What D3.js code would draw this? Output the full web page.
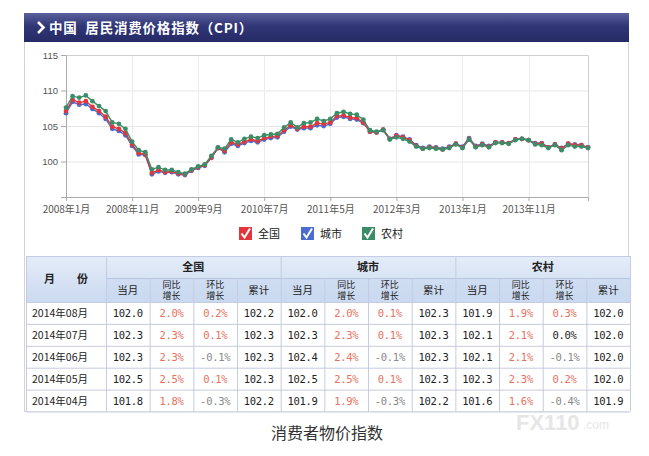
<!DOCTYPE html>
<html>
<head>
<meta charset="utf-8">
<script src="https://cdnjs.cloudflare.com/ajax/libs/d3/7.8.5/d3.min.js"></script>
<style>
  html, body { margin: 0; padding: 0; background: #fff; }
  svg { display: block; font-family: "Noto Sans CJK SC", "Noto Sans", sans-serif; }
</style>
</head>
<body>
<div id="chart"></div>
<script>
// ---- data ----
const seriesNames = ["全国", "城市", "农村"];
const seriesColors = ["#e2353c", "#4a6dcf", "#3b8d68"];

const national = [
  107.1, 108.7, 108.3, 108.5, 107.7, 107.1, 106.3, 104.9, 104.6, 104.0, 102.4, 101.2,
  101.0, 98.4, 98.8, 98.5, 98.6, 98.3, 98.2, 98.8, 99.2, 99.5, 100.6, 101.9,
  101.5, 102.7, 102.4, 102.8, 103.1, 102.9, 103.3, 103.5, 103.6, 104.4, 105.1, 104.6,
  104.9, 104.9, 105.4, 105.3, 105.5, 106.4, 106.5, 106.2, 106.1, 105.5, 104.2, 104.1,
  104.5, 103.2, 103.6, 103.4, 103.0, 102.2, 101.8, 102.0, 101.9, 101.7, 102.0, 102.5,
  102.0, 103.2, 102.1, 102.4, 102.1, 102.7, 102.7, 102.6, 103.1, 103.2, 103.0, 102.5,
  102.5, 102.0, 102.4, 101.8, 102.5, 102.3, 102.3, 102.0
];
const urban = [
  106.8, 108.4, 108.0, 108.1, 107.4, 106.8, 106.0, 104.6, 104.3, 103.7, 102.2, 101.0,
  100.9, 98.2, 98.6, 98.4, 98.5, 98.2, 98.1, 98.7, 99.1, 99.4, 100.5, 101.9,
  101.3, 102.5, 102.2, 102.6, 102.9, 102.7, 103.1, 103.3, 103.4, 104.2, 104.9, 104.5,
  104.7, 104.7, 105.1, 105.0, 105.3, 106.2, 106.3, 106.0, 105.9, 105.4, 104.2, 104.1,
  104.5, 103.2, 103.7, 103.5, 103.1, 102.3, 101.9, 102.1, 102.0, 101.8, 102.1, 102.5,
  102.1, 103.3, 102.2, 102.5, 102.2, 102.7, 102.7, 102.6, 103.1, 103.2, 103.0, 102.6,
  102.6, 102.0, 102.4, 101.9, 102.5, 102.4, 102.3, 102.0
];
const rural = [
  107.6, 109.2, 109.0, 109.3, 108.5, 107.8, 107.1, 105.5, 105.3, 104.6, 102.8, 101.6,
  101.3, 98.9, 99.2, 98.8, 98.8, 98.5, 98.3, 98.9, 99.3, 99.6, 100.8, 102.0,
  101.8, 103.1, 102.7, 103.2, 103.5, 103.3, 103.7, 103.8, 103.9, 104.8, 105.5, 104.8,
  105.4, 105.5, 106.0, 105.7, 106.0, 106.8, 107.0, 106.7, 106.6, 105.9, 104.4, 104.2,
  104.4, 103.1, 103.4, 103.2, 102.8, 102.1, 101.8, 101.9, 101.8, 101.7, 101.9, 102.4,
  101.9, 103.1, 102.0, 102.3, 102.0, 102.6, 102.6, 102.5, 103.0, 103.2, 103.0, 102.4,
  102.3, 101.9, 102.3, 101.6, 102.3, 102.1, 102.1, 101.9
];
const xTickLabels = ["2008年1月", "2008年11月", "2009年9月", "2010年7月", "2011年5月", "2012年3月", "2013年1月", "2013年11月"];
const yTicks = [100, 105, 110, 115];

// table
const tableMonths = ["2014年08月", "2014年07月", "2014年06月", "2014年05月", "2014年04月"];
const subHeads = [["当月"], ["同比", "增长"], ["环比", "增长"], ["累计"]];
const tableNational = [
  ["102.0", "2.0%", "0.2%", "102.2"],
  ["102.3", "2.3%", "0.1%", "102.3"],
  ["102.3", "2.3%", "-0.1%", "102.3"],
  ["102.5", "2.5%", "0.1%", "102.3"],
  ["101.8", "1.8%", "-0.3%", "102.2"]
];
const tableUrban = [
  ["102.0", "2.0%", "0.1%", "102.3"],
  ["102.3", "2.3%", "0.1%", "102.3"],
  ["102.4", "2.4%", "-0.1%", "102.3"],
  ["102.5", "2.5%", "0.1%", "102.3"],
  ["101.9", "1.9%", "-0.3%", "102.2"]
];
const tableRural = [
  ["101.9", "1.9%", "0.3%", "102.0"],
  ["102.1", "2.1%", "0.0%", "102.0"],
  ["102.1", "2.1%", "-0.1%", "102.0"],
  ["102.3", "2.3%", "0.2%", "102.0"],
  ["101.6", "1.6%", "-0.4%", "101.9"]
];

const W = 649, H = 456;
const plot = { left: 66, right: 588, top: 55, bottom: 197 };

const series = [urban, national, rural];     // draw order
const seriesColorOf = [seriesColors[1], seriesColors[0], seriesColors[2]];

const svg = d3.select("#chart").append("svg")
  .attr("width", W).attr("height", H);

const defs = svg.append("defs");
const hg = defs.append("linearGradient").attr("id", "hdr").attr("x1", 0).attr("y1", 0).attr("x2", 0).attr("y2", 1);
hg.append("stop").attr("offset", "0%").attr("stop-color", "#5b609c");
hg.append("stop").attr("offset", "45%").attr("stop-color", "#303676");
hg.append("stop").attr("offset", "100%").attr("stop-color", "#262b66");
const tg = defs.append("linearGradient").attr("id", "thead").attr("x1", 0).attr("y1", 0).attr("x2", 0).attr("y2", 1);
tg.append("stop").attr("offset", "0%").attr("stop-color", "#e4ecf8");
tg.append("stop").attr("offset", "100%").attr("stop-color", "#cbdaf0");

// panel frame
svg.append("rect").attr("x", 24.5).attr("y", 13.5).attr("width", 604).attr("height", 398)
  .attr("fill", "#fff").attr("stroke", "#d4d4d8");

// header band
svg.append("rect").attr("x", 24).attr("y", 13).attr("width", 605).attr("height", 29).attr("fill", "url(#hdr)");
svg.append("path").attr("d", "M38,22 L43.5,27.5 L38,33").attr("fill", "none")
  .attr("stroke", "#fff").attr("stroke-width", 2.6);
svg.append("text").attr("x", 49).attr("y", 32.5).attr("fill", "#fff")
  .attr("font-size", 13.5).attr("font-weight", "bold").attr("letter-spacing", 0.8)
  .attr("font-family", "'Noto Sans CJK SC', serif").attr("xml:space", "preserve")
  .text("中国  居民消费价格指数（CPI）");

// scales
const x = d3.scaleLinear().domain([0, national.length - 1]).range([plot.left, plot.right]);
const y = d3.scaleLinear().domain([95, 115]).range([plot.bottom, plot.top]);
const tickIdx = xTickLabels.map((d, i) => i * 10);

// grid
const grid = svg.append("g");
grid.selectAll(".gy").data(yTicks.filter(v => v < 115)).join("line")
  .attr("x1", plot.left).attr("x2", plot.right)
  .attr("y1", d => y(d) + 0.5).attr("y2", d => y(d) + 0.5)
  .attr("stroke", "#e6e6e6");
grid.selectAll(".gx").data(tickIdx.slice(1)).join("line")
  .attr("x1", d => Math.round(x(d)) + 0.5).attr("x2", d => Math.round(x(d)) + 0.5)
  .attr("y1", plot.top).attr("y2", plot.bottom)
  .attr("stroke", "#ececec");
grid.append("path")
  .attr("d", `M${plot.left},${plot.top + 0.5}H${plot.right + 0.5}V${plot.bottom}`)
  .attr("fill", "none").attr("stroke", "#cfcfcf");

// axes
const yAxis = svg.append("g").attr("transform", `translate(${plot.left},0)`)
  .call(d3.axisLeft(y).tickValues(yTicks).tickSize(5).tickPadding(3));
const xAxis = svg.append("g").attr("transform", `translate(0,${plot.bottom})`)
  .call(d3.axisBottom(x).tickValues(tickIdx).tickSize(4).tickPadding(5)
    .tickFormat((d, i) => xTickLabels[i]));
[xAxis, yAxis].forEach(a => {
  a.select(".domain").attr("stroke", "#aaa");
  a.selectAll(".tick line").attr("stroke", "#aaa");
  a.selectAll("text").attr("fill", "#555").attr("font-size", 9.5)
    .attr("font-family", "'Liberation Sans', Arial, sans-serif");
});
xAxis.selectAll("text").attr("font-family", "'Noto Sans CJK SC', sans-serif").attr("font-size", 10);

// lines and markers
const line = d3.line().x((d, i) => x(i)).y(d => y(d));
series.forEach((s, k) => {
  const g = svg.append("g");
  g.append("path").datum(s).attr("d", line)
    .attr("fill", "none").attr("stroke", seriesColorOf[k]).attr("stroke-width", 1.4);
  g.selectAll("circle").data(s).join("circle")
    .attr("cx", (d, i) => x(i)).attr("cy", d => y(d)).attr("r", 2.4)
    .attr("fill", seriesColorOf[k]);
});

// legend
const legendX = [239, 301, 362];
const lg = svg.append("g");
seriesNames.forEach((name, i) => {
  const gx = legendX[i], gy = 227;
  lg.append("rect").attr("x", gx).attr("y", gy).attr("width", 13).attr("height", 13)
    .attr("fill", seriesColors[i]);
  lg.append("path").attr("d", `M${gx + 2.5},${gy + 6.5} L${gx + 5.5},${gy + 10.5} L${gx + 11},${gy + 1.5}`)
    .attr("fill", "none").attr("stroke", "#fff").attr("stroke-width", 2);
  lg.append("text").attr("x", gx + 19).attr("y", gy + 11).attr("font-size", 11)
    .attr("fill", "#222").text(name);
});

// table
const tTop = 256, h1 = 22, h2 = 24, rowH = 21.9;
const colX = [26, 106];
for (let i = 1; i <= 12; i++) colX.push(106 + i * 43.67);
const tRight = colX[colX.length - 1];
const bodyTop = tTop + h1 + h2;
const tbl = svg.append("g");

tbl.append("rect").attr("x", colX[0]).attr("y", tTop).attr("width", tRight - colX[0])
  .attr("height", h1 + h2).attr("fill", "url(#thead)");
tbl.append("rect").attr("x", colX[1]).attr("y", tTop + h1).attr("width", tRight - colX[1])
  .attr("height", h2).attr("fill", "#c9d9f0").attr("opacity", 0.6);
tbl.append("rect").attr("x", colX[0]).attr("y", bodyTop).attr("width", tRight - colX[0])
  .attr("height", rowH * tableMonths.length).attr("fill", "#fff");

const lineColor = "#c5cbe0";
// horizontal lines
const hLines = [tTop, bodyTop].concat(tableMonths.map((d, i) => bodyTop + (i + 1) * rowH));
tbl.selectAll(".hl").data(hLines).join("line")
  .attr("x1", colX[0]).attr("x2", tRight).attr("y1", d => d + 0.5).attr("y2", d => d + 0.5)
  .attr("stroke", lineColor);
tbl.append("line").attr("x1", colX[1]).attr("x2", tRight).attr("y1", tTop + h1 + 0.5).attr("y2", tTop + h1 + 0.5)
  .attr("stroke", "#b7c7e2");
// vertical lines
colX.forEach((cx, i) => {
  const full = i <= 1 || (i - 1) % 4 === 0 || i === colX.length - 1;
  tbl.append("line").attr("x1", cx + 0.5).attr("x2", cx + 0.5)
    .attr("y1", full ? tTop : tTop + h1).attr("y2", bodyTop + rowH * tableMonths.length)
    .attr("stroke", lineColor);
});

// header texts
tbl.append("text").attr("x", 66).attr("y", tTop + 27).attr("text-anchor", "middle")
  .attr("font-size", 11).attr("font-weight", "bold").attr("fill", "#222").attr("xml:space", "preserve")
  .text("月　　份");
seriesNames.forEach((name, g) => {
  const cx = (colX[1 + g * 4] + colX[5 + g * 4]) / 2;
  tbl.append("text").attr("x", cx).attr("y", tTop + 15).attr("text-anchor", "middle")
    .attr("font-size", 11).attr("font-weight", "bold").attr("fill", "#222").text(name);
  subHeads.forEach((sh, j) => {
    const sx = (colX[1 + g * 4 + j] + colX[2 + g * 4 + j]) / 2;
    if (sh.length === 1) {
      tbl.append("text").attr("x", sx).attr("y", tTop + h1 + 16).attr("text-anchor", "middle")
        .attr("font-size", 10.5).attr("fill", "#222").text(sh[0]);
    } else {
      sh.forEach((s, k) => tbl.append("text").attr("x", sx).attr("y", tTop + h1 + 9.5 + k * 11.5)
        .attr("text-anchor", "middle").attr("font-size", 9).attr("fill", "#222").text(s));
    }
  });
});

// body texts
const groups = [tableNational, tableUrban, tableRural];
const pctColor = v => v.startsWith("-") ? "#888" : (parseFloat(v) === 0 ? "#222" : "#e8705e");
tableMonths.forEach((m, r) => {
  const ty = bodyTop + r * rowH + 15;
  tbl.append("text").attr("x", 32).attr("y", ty).attr("font-size", 10.5).attr("fill", "#222").text(m);
  groups.forEach((grp, g) => {
    grp[r].forEach((v, j) => {
      const sx = (colX[1 + g * 4 + j] + colX[2 + g * 4 + j]) / 2;
      const isPct = j === 1 || j === 2;
      tbl.append("text").attr("x", sx).attr("y", ty).attr("text-anchor", "middle")
        .attr("font-size", 10.5).attr("font-family", "'DejaVu Sans Mono', 'Liberation Mono', monospace")
        .attr("letter-spacing", -0.3)
        .attr("fill", isPct ? pctColor(v) : "#222").text(v);
    });
  });
});

// watermark
const wm = svg.append("g").attr("opacity", 0.9);
wm.append("text").attr("x", 516).attr("y", 430).attr("font-size", 22).attr("font-weight", "bold")
  .attr("fill", "#e4e4e4").attr("font-family", "'Liberation Sans', Arial, sans-serif").text("FX110");
wm.append("text").attr("x", 583).attr("y", 429).attr("font-size", 12)
  .attr("fill", "#e4e4e4").attr("font-family", "'Liberation Sans', Arial, sans-serif").text(".com");

// caption
svg.append("text").attr("x", 327).attr("y", 439).attr("text-anchor", "middle")
  .attr("font-size", 16).attr("fill", "#333").text("消费者物价指数");
</script>
</body>
</html>
